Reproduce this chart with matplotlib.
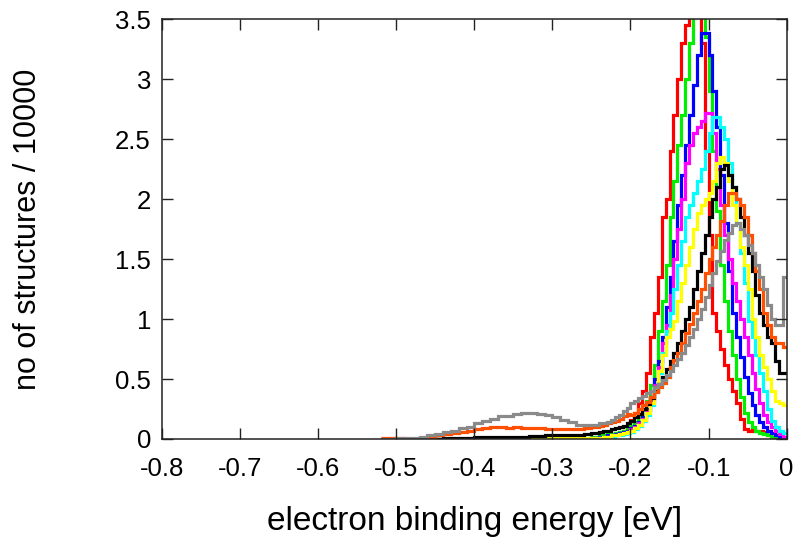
import numpy as np
import matplotlib
matplotlib.use("Agg")
import matplotlib.pyplot as plt

# bin edges: coarse tail (0.01 eV) then fine core (0.005 eV)
tail_edges = np.linspace(-0.52, -0.25, 28)[:-1]
core_edges = np.linspace(-0.25, 0.0, 51)
edges = np.concatenate([tail_edges, core_edges])

# tail bins -0.52 .. -0.26 (27 values), core bins -0.25 .. -0.005 (50 values)
zero_tail = [0.0] * 27

red_tail = zero_tail
red_core = [0.01, 0.01, 0.02, 0.02, 0.03, 0.03, 0.04, 0.05, 0.07, 0.10,
            0.16, 0.22, 0.30, 0.40, 0.55, 0.85, 1.05, 1.35, 1.85, 2.00,
            2.40, 2.70, 3.00, 3.30, 3.45, 3.75, 3.80, 3.60, 3.30, 2.40,
            1.70, 1.05, 0.90, 0.75, 0.62, 0.50, 0.40, 0.30, 0.17, 0.08,
            0.07, 0.08, 0.07, 0.07, 0.06, 0.03, 0.02, 0.01, 0.01, 0.00]

green_tail = zero_tail
green_core = [0.02, 0.02, 0.03, 0.03, 0.04, 0.04, 0.05, 0.06, 0.07, 0.09,
              0.11, 0.14, 0.18, 0.24, 0.32, 0.45, 0.62, 0.90, 1.15, 1.45,
              1.85, 2.15, 2.45, 2.70, 3.00, 3.30, 3.60, 3.70, 3.60, 3.35,
              2.90, 2.40, 1.90, 1.45, 1.15, 0.90, 0.70, 0.50, 0.35, 0.22,
              0.14, 0.10, 0.07, 0.05, 0.04, 0.03, 0.02, 0.02, 0.01, 0.01]

blue_tail = zero_tail
blue_core = [0.01, 0.01, 0.02, 0.02, 0.03, 0.03, 0.04, 0.05, 0.06, 0.07,
             0.09, 0.11, 0.14, 0.18, 0.25, 0.35, 0.50, 0.65, 0.85, 1.10,
             1.35, 1.65, 1.95, 2.20, 2.45, 2.70, 2.95, 3.20, 3.38, 3.38,
             3.20, 2.90, 2.60, 2.20, 1.80, 1.40, 1.05, 0.85, 0.68, 0.52,
             0.38, 0.28, 0.20, 0.14, 0.10, 0.07, 0.05, 0.03, 0.02, 0.01]

magenta_tail = zero_tail
magenta_core = [0.01, 0.01, 0.01, 0.02, 0.02, 0.03, 0.03, 0.04, 0.05, 0.06,
                0.08, 0.10, 0.13, 0.17, 0.23, 0.32, 0.45, 0.60, 0.80, 0.95,
                1.20, 1.50, 1.75, 2.00, 2.30, 2.45, 2.55, 2.60, 2.65, 2.72,
                2.72, 2.55, 2.25, 1.95, 1.70, 1.50, 1.30, 1.15, 1.00, 0.85,
                0.70, 0.55, 0.42, 0.30, 0.20, 0.14, 0.10, 0.07, 0.04, 0.02]

cyan_tail = zero_tail
cyan_core = [0.00, 0.01, 0.01, 0.01, 0.02, 0.02, 0.03, 0.03, 0.04, 0.05,
             0.06, 0.08, 0.11, 0.15, 0.20, 0.28, 0.40, 0.55, 0.72, 0.90,
             1.05, 1.25, 1.45, 1.65, 1.85, 1.95, 2.05, 2.15, 2.25, 2.40,
             2.55, 2.68, 2.68, 2.60, 2.50, 2.30, 2.10, 1.80, 1.55, 1.30,
             0.98, 0.85, 0.70, 0.55, 0.40, 0.25, 0.15, 0.10, 0.07, 0.05]

yellow_tail = [0.0] * 17 + [0.005] * 10
yellow_core = [0.01, 0.01, 0.01, 0.02, 0.02, 0.03, 0.03, 0.04, 0.05, 0.06,
               0.07, 0.09, 0.12, 0.16, 0.22, 0.30, 0.42, 0.57, 0.70, 0.85,
               0.92, 0.98, 1.15, 1.30, 1.45, 1.60, 1.75, 1.88, 1.95, 2.00,
               2.05, 2.15, 2.30, 2.35, 2.30, 2.15, 1.95, 1.80, 1.60, 1.45,
               1.25, 1.00, 0.85, 0.70, 0.60, 0.50, 0.40, 0.32, 0.30, 0.28]

black_tail = [0.0, 0.0, 0.0, 0.0, 0.0, 0.0, 0.0, 0.0, 0.005, 0.01,
              0.01, 0.01, 0.015, 0.015, 0.02, 0.02, 0.02, 0.02, 0.02, 0.025,
              0.025, 0.03, 0.03, 0.03, 0.035, 0.035, 0.04]
black_core = [0.05, 0.05, 0.06, 0.07, 0.07, 0.08, 0.09, 0.10, 0.11, 0.13,
              0.15, 0.18, 0.21, 0.25, 0.29, 0.34, 0.40, 0.46, 0.52, 0.58,
              0.65, 0.72, 0.80, 0.90, 1.00, 1.10, 1.25, 1.40, 1.55, 1.70,
              1.85, 2.00, 2.10, 2.25, 2.28, 2.20, 2.10, 2.00, 1.85, 1.70,
              1.55, 1.40, 1.20, 1.05, 0.95, 0.85, 0.80, 0.65, 0.55, 0.55]

orange_tail = [0.01, 0.01, 0.01, 0.0, 0.0, 0.01, 0.02, 0.03, 0.04, 0.05,
               0.06, 0.07, 0.08, 0.09, 0.10, 0.10, 0.09, 0.10, 0.09, 0.09,
               0.09, 0.08, 0.08, 0.08, 0.08, 0.08, 0.09]
orange_core = [0.10, 0.10, 0.11, 0.12, 0.13, 0.14, 0.15, 0.17, 0.19, 0.21,
               0.20, 0.22, 0.25, 0.28, 0.31, 0.35, 0.39, 0.43, 0.47, 0.52,
               0.60, 0.66, 0.72, 0.80, 0.88, 0.96, 1.05, 1.15, 1.25, 1.38,
               1.50, 1.60, 1.70, 1.82, 1.95, 2.05, 2.05, 2.00, 1.95, 1.85,
               1.70, 1.55, 1.40, 1.25, 1.05, 0.95, 0.85, 0.80, 0.80, 0.77]

gray_tail = [0.0, 0.0, 0.005, 0.01, 0.01, 0.02, 0.03, 0.04, 0.06, 0.07,
             0.09, 0.10, 0.13, 0.15, 0.17, 0.19, 0.19, 0.21, 0.22, 0.22,
             0.21, 0.20, 0.18, 0.16, 0.14, 0.12, 0.12]
gray_core = [0.12, 0.12, 0.13, 0.13, 0.14, 0.16, 0.18, 0.20, 0.23, 0.26,
             0.30, 0.32, 0.34, 0.36, 0.38, 0.40, 0.43, 0.46, 0.49, 0.53,
             0.57, 0.62, 0.67, 0.72, 0.78, 0.85, 0.92, 1.00, 1.08, 1.18,
             1.28, 1.38, 1.48, 1.57, 1.66, 1.72, 1.78, 1.80, 1.75, 1.70,
             1.62, 1.55, 1.45, 1.35, 1.25, 1.12, 1.00, 0.95, 0.95, 1.35]

series = [
    (red_tail + red_core, "#ff0000"),
    (green_tail + green_core, "#00ee00"),
    (blue_tail + blue_core, "#0000ff"),
    (magenta_tail + magenta_core, "#ff00ff"),
    (cyan_tail + cyan_core, "#00ffff"),
    (yellow_tail + yellow_core, "#ffff00"),
    (black_tail + black_core, "#000000"),
    (orange_tail + orange_core, "#ff4f00"),
    (gray_tail + gray_core, "#8a8a8a"),
]

plt.rcParams['font.family'] = ['Liberation Sans', 'DejaVu Sans']

fig = plt.figure(figsize=(8.06, 5.37), dpi=100)
ax = fig.add_axes([0.201, 0.1825, 0.775, 0.782])

for vals, col in series:
    ax.stairs(vals, edges, baseline=None, color=col, linewidth=2.3)

ax.set_xlim(-0.8, 0)
ax.set_ylim(0, 3.5)
ax.set_xticks(np.arange(-0.8, 0.01, 0.1))
ax.set_xticklabels(["-0.8", "-0.7", "-0.6", "-0.5", "-0.4", "-0.3", "-0.2", "-0.1", "0"])
ax.set_yticks(np.arange(0, 3.51, 0.5))
ax.set_yticklabels(["0", "0.5", "1", "1.5", "2", "2.5", "3", "3.5"])
ax.tick_params(direction='in', length=8, width=1, top=True, right=True,
               labelsize=18.5, colors='#222222', labelcolor='black')
ax.tick_params(axis='x', pad=13)
ax.tick_params(axis='y', pad=8)
for s in ax.spines.values():
    s.set_linewidth(1.1)
    s.set_color('#222222')

ax.set_xlabel("electron binding energy [eV]", fontsize=24)
ax.set_ylabel("no of structures / 10000", fontsize=22)
ax.xaxis.set_label_coords(0.5, -0.16)
ax.yaxis.set_label_coords(-0.19, 0.5)

fig.savefig("out.png", dpi=100)
